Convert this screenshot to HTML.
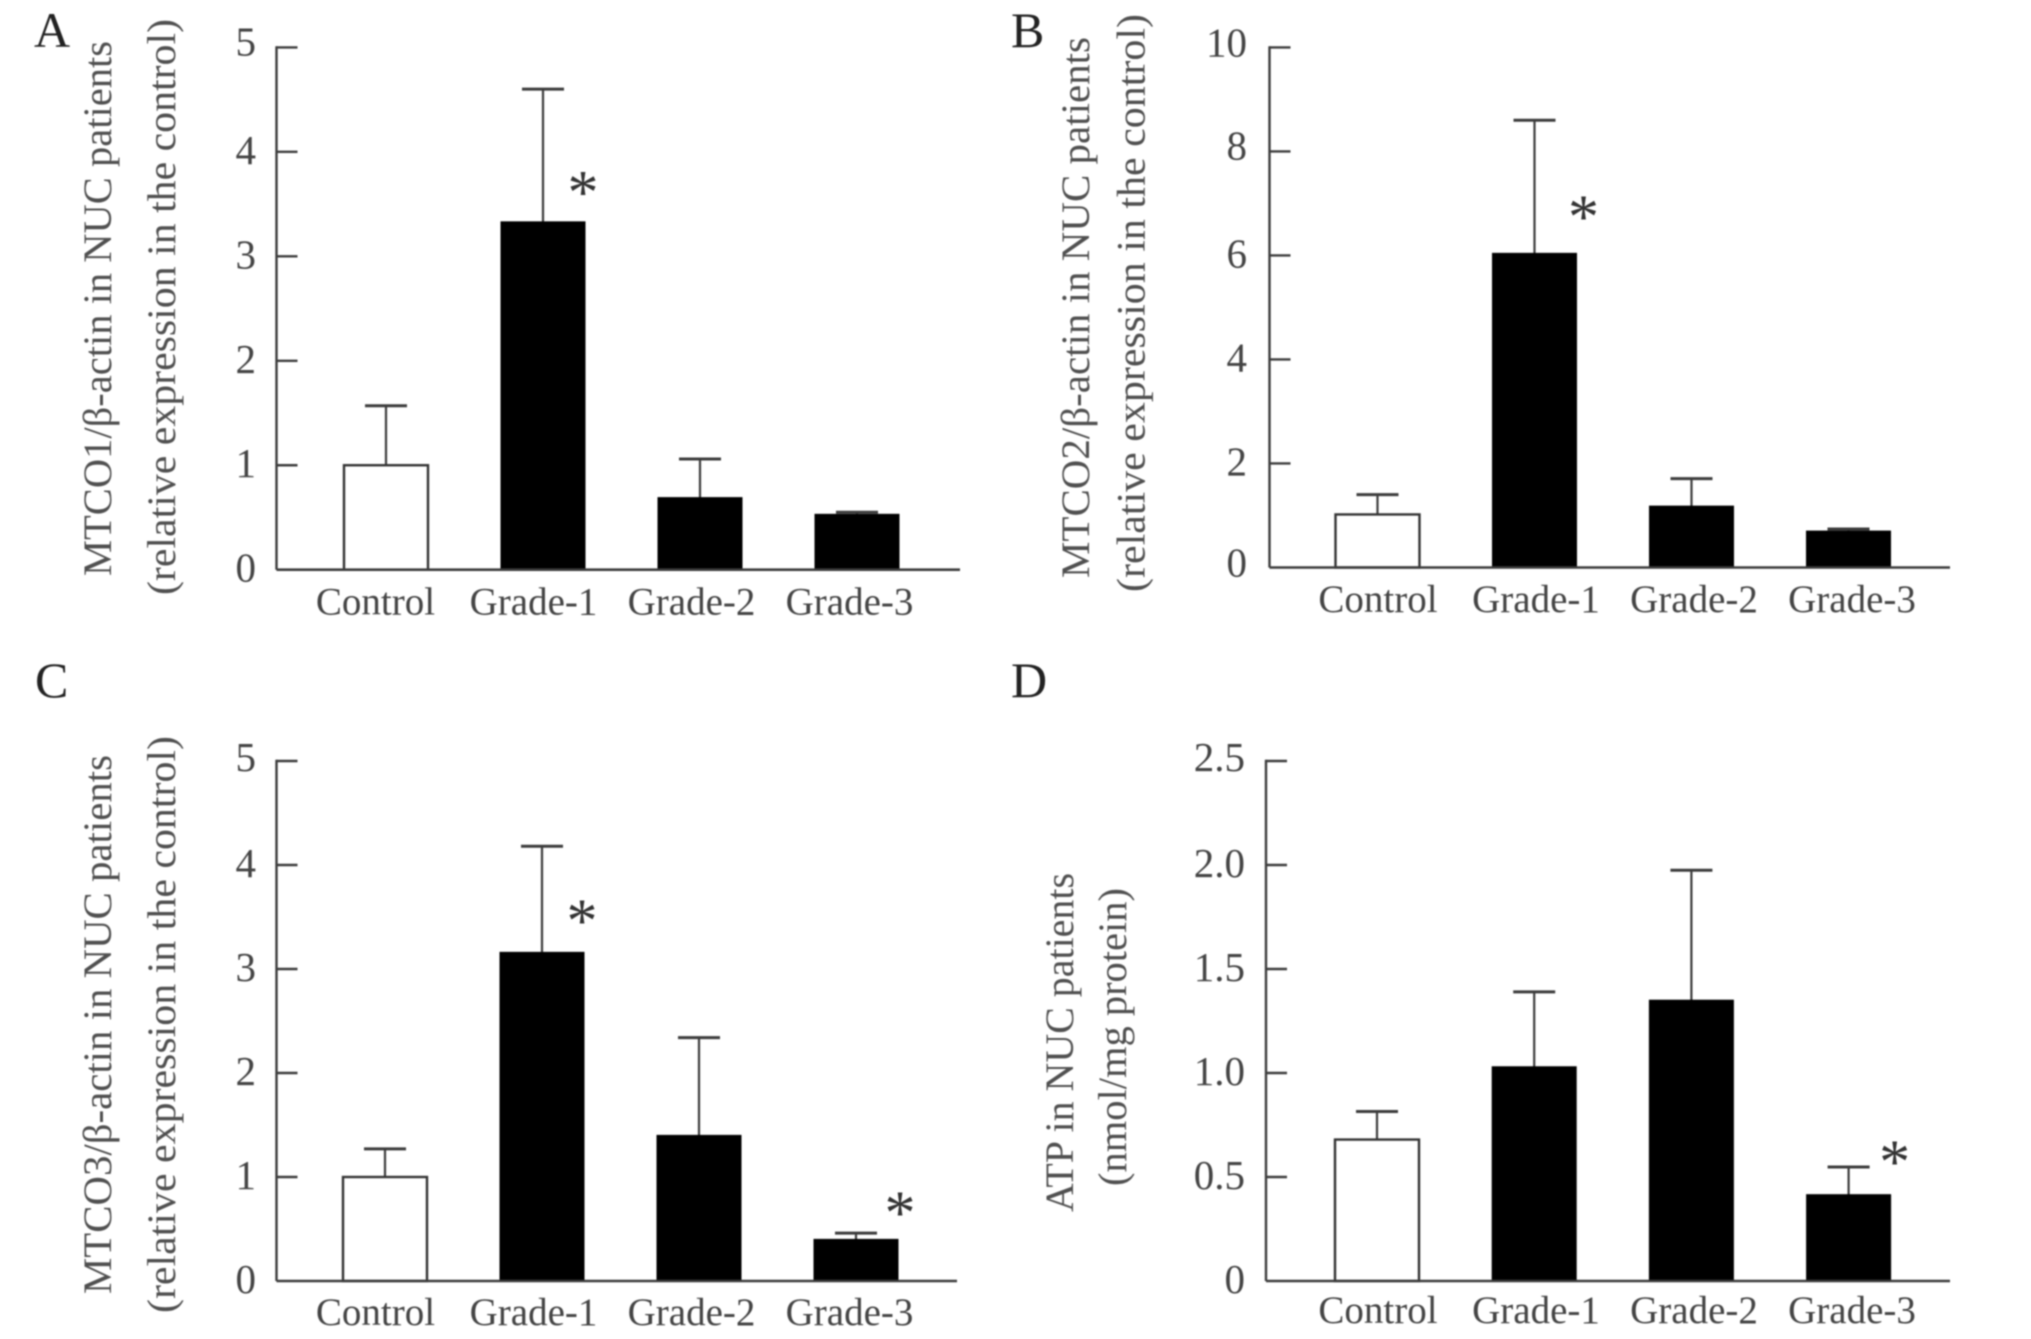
<!DOCTYPE html>
<html lang="en">
<head>
<meta charset="utf-8">
<title>Mitochondrial expression and ATP in NUC patients</title>
<style>
  html, body { margin: 0; padding: 0; background: #fff; width: 2031px; height: 1339px; overflow: hidden; }
  svg { display: block; filter: blur(0.8px); }
  text { font-family: "Liberation Serif", "Noto Serif CJK SC", serif; }
</style>
</head>
<body>
<svg id="fig" xmlns="http://www.w3.org/2000/svg" width="2031" height="1339" viewBox="0 0 2031 1339"></svg>
<script>
// ---- Data ----
const categories = ["Control", "Grade-1", "Grade-2", "Grade-3"];

const ticksA = [0, 1, 2, 3, 4, 5];
const valuesA = [1.0, 3.33, 0.69, 0.53];
const errorTopsA = [1.57, 4.60, 1.06, 0.55];
const starsA = [false, true, false, false];

const ticksB = [0, 2, 4, 6, 8, 10];
const valuesB = [1.02, 6.04, 1.18, 0.70];
const errorTopsB = [1.40, 8.60, 1.71, 0.74];
const starsB = [false, true, false, false];

const ticksC = [0, 1, 2, 3, 4, 5];
const valuesC = [1.0, 3.16, 1.40, 0.40];
const errorTopsC = [1.27, 4.18, 2.34, 0.46];
const starsC = [false, true, false, true];

const ticksD = [0, 0.5, 1.0, 1.5, 2.0, 2.5];
const tickLabelsD = ["0", "0.5", "1.0", "1.5", "2.0", "2.5"];
const valuesD = [0.68, 1.03, 1.35, 0.415];
const errorTopsD = [0.815, 1.39, 1.975, 0.548];
const starsD = [false, false, false, true];

// ---- Drawing ----
const NS = "http://www.w3.org/2000/svg";
const fig = document.getElementById("fig");
const AXIS = "#3c3c3c", INK = "#000", LABEL = "#444", TITLE = "#505050";

function make(tag, attrs, parent, text) {
  const el = document.createElementNS(NS, tag);
  for (const k in attrs) el.setAttribute(k, attrs[k]);
  if (text !== undefined) el.textContent = text;
  parent.appendChild(el);
  return el;
}

function drawPanel(p) {
  const g = make("g", {}, fig);
  
  

  const y = v => p.y0 + (p.yTop - p.y0) * (v - p.ticks[0]) / (p.ticks[p.ticks.length - 1] - p.ticks[0]);
  const barX = i => p.barStart + i * p.barStep;
  const labelX = i => p.labelStart + i * p.labelStep;

  // panel letter
  const letter = make("text", { x: p.letterX, y: p.letterY, "font-size": 50, fill: "#222" }, g, p.key);
  
  

  // y-axis titles
  const t1 = make("text", {
    transform: `translate(${p.t1x},${p.t1y}) rotate(-90)`, "font-size": 40, fill: TITLE,
    textLength: p.t1len, lengthAdjust: "spacingAndGlyphs"
  }, g, p.title1);
  
  
  const t2 = make("text", {
    transform: `translate(${p.t2x},${p.t2y}) rotate(-90)`, "font-size": 40, fill: TITLE,
    textLength: p.t2len, lengthAdjust: "spacingAndGlyphs"
  }, g, p.title2);
  
  

  // error bars (behind bars)
  categories.forEach((c, i) => {
    const cx = barX(i);
    const stem = make("line", { x1: cx, x2: cx, y1: y(p.values[i]), y2: y(p.errors[i]), stroke: AXIS, "stroke-width": 2.2 }, g);
    
    
    const cap = make("line", { x1: cx - 21, x2: cx + 21, y1: y(p.errors[i]), y2: y(p.errors[i]), stroke: AXIS, "stroke-width": 3 }, g);
    
    
  });

  // bars
  categories.forEach((c, i) => {
    const cx = barX(i);
    const top = y(p.values[i]);
    const hollow = i === 0;
    const bar = make("rect", {
      x: cx - p.barW / 2, y: top, width: p.barW, height: p.y0 - top,
      fill: hollow ? "#fff" : INK, stroke: hollow ? "#333" : INK, "stroke-width": hollow ? 2.4 : 1
    }, g);
    
    
  });

  // axes
  const yAxis = make("line", { x1: p.axisX, x2: p.axisX, y1: y(p.ticks[p.ticks.length - 1]) - 1.2, y2: p.y0, stroke: AXIS, "stroke-width": 2.4 }, g);
  
  
  const xAxis = make("line", { x1: p.axisX, x2: p.axisEnd, y1: p.y0, y2: p.y0, stroke: AXIS, "stroke-width": 2.6 }, g);
  
  

  // ticks and tick labels
  p.ticks.forEach((t, i) => {
    if (i > 0) {
      const tick = make("line", { x1: p.axisX, x2: p.axisX + 21, y1: y(t), y2: y(t), stroke: AXIS, "stroke-width": 2.4 }, g);
      
      
    }
    const nudge = p.tickNudge[i] || 0;
    const lab = make("text", { x: p.tickRight, y: y(t) + 12 + nudge, "font-size": 41, fill: LABEL, "text-anchor": "end" }, g, p.tickLabels[i]);
    
    
  });

  // category labels
  categories.forEach((c, i) => {
    const lab = make("text", { x: labelX(i), y: p.y0 + p.labelDy, "font-size": 39, fill: LABEL, "text-anchor": "middle" }, g, c);
    
    
  });

  // significance marks, placed relative to their bar
  p.stars.forEach((on, i) => {
    if (!on) return;
    const off = p.starOffset[i];
    const star = make("text", { x: barX(i) + off[0], y: y(p.values[i]) + off[1] + 29, "font-size": 62, fill: "#333", "text-anchor": "middle" }, g, "*");
    
    
  });
}

drawPanel({
  key: "A", ticks: ticksA, tickLabels: ticksA.map(String), values: valuesA, errors: errorTopsA, stars: starsA,
  axisX: 276.5, axisEnd: 960, yTop: 47.4, y0: 569.7, tickRight: 256, tickNudge: { 5: -4 },
  barStart: 386, barStep: 157, barW: 84, labelStart: 375.5, labelStep: 158, labelDy: 45,
  letterX: 34, letterY: 47,
  title1: "MTCO1/\u03B2-actin in NUC patients", t1x: 111, t1y: 576, t1len: 535,
  title2: "(relative expression in the control)", t2x: 175, t2y: 595, t2len: 576,
  starOffset: { 1: [40, -38] }
});

drawPanel({
  key: "B", ticks: ticksB, tickLabels: ticksB.map(String), values: valuesB, errors: errorTopsB, stars: starsB,
  axisX: 1269.5, axisEnd: 1950, yTop: 47.4, y0: 567.5, tickRight: 1247, tickNudge: { 0: -3, 4: -4, 5: -3 },
  barStart: 1377.5, barStep: 157, barW: 84, labelStart: 1378, labelStep: 158, labelDy: 44.5,
  letterX: 1011, letterY: 47,
  title1: "MTCO2/\u03B2-actin in NUC patients", t1x: 1089, t1y: 578, t1len: 541,
  title2: "(relative expression in the control)", t2x: 1144.5, t2y: 592, t2len: 578,
  starOffset: { 1: [49, -45] }
});

drawPanel({
  key: "C", ticks: ticksC, tickLabels: ticksC.map(String), values: valuesC, errors: errorTopsC, stars: starsC,
  axisX: 276.5, axisEnd: 957, yTop: 761, y0: 1281, tickRight: 256, tickNudge: { 5: -2 },
  barStart: 385, barStep: 157, barW: 84, labelStart: 375.5, labelStep: 158, labelDy: 44,
  letterX: 35, letterY: 697,
  title1: "MTCO3/\u03B2-actin in NUC patients", t1x: 111, t1y: 1294, t1len: 539,
  title2: "(relative expression in the control)", t2x: 175, t2y: 1313, t2len: 577,
  starOffset: { 1: [40, -40], 3: [44, -35] }
});

drawPanel({
  key: "D", ticks: ticksD, tickLabels: tickLabelsD, values: valuesD, errors: errorTopsD, stars: starsD,
  axisX: 1266, axisEnd: 1950, yTop: 761, y0: 1281, tickRight: 1245, tickNudge: { 5: -2 },
  barStart: 1377, barStep: 157.2, barW: 84, labelStart: 1378, labelStep: 158, labelDy: 42,
  letterX: 1011, letterY: 697,
  title1: "ATP in NUC patients", t1x: 1073, t1y: 1212, t1len: 339,
  title2: "(nmol/mg protein)", t2x: 1126, t2y: 1186, t2len: 298,
  starOffset: { 3: [46, -41] }
});
</script>
</body>
</html>
